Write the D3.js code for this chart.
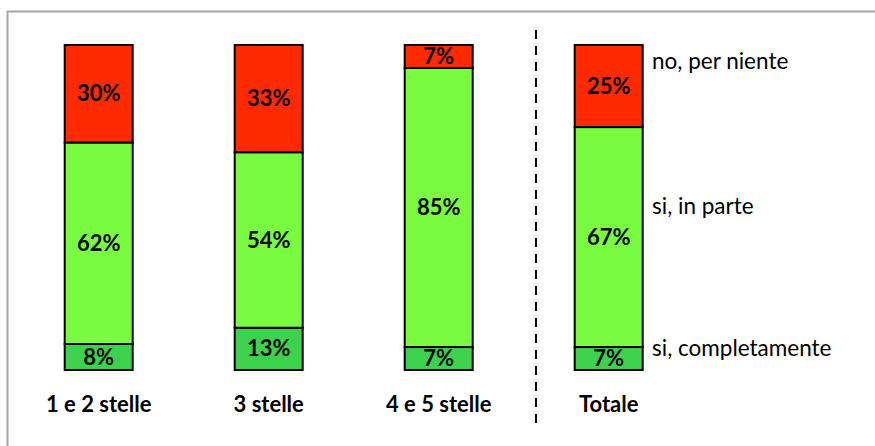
<!DOCTYPE html>
<html>
<head>
<meta charset="utf-8">
<script src="https://cdn.jsdelivr.net/npm/d3@7"></script>
<style>
  html, body { margin: 0; padding: 0; background: #fff; }
  svg { display: block; }
</style>
</head>
<body>
<svg id="chart" width="875" height="446"></svg>
<script>
// Risposte per categoria di hotel (percentuali)
const categories = ["1 e 2 stelle", "3 stelle", "4 e 5 stelle", "Totale"];
const seriesKeys = ["si, completamente", "si, in parte", "no, per niente"];
const completamente = [8, 13, 7, 7];
const inParte = [62, 54, 85, 67];
const perNiente = [30, 33, 7, 25];
const seriesColors = ["#3DD24B", "#79FB40", "#FF2A00"];
const legendY = [356, 214, 69];

const rows = categories.map((c, i) => ({
  cat: c,
  "si, completamente": completamente[i],
  "si, in parte": inParte[i],
  "no, per niente": perNiente[i]
}));

const svg = d3.select("#chart");

// cornice esterna
svg.append("rect")
  .attr("x", 7.5).attr("y", 11.5)
  .attr("width", 880).attr("height", 450)
  .attr("fill", "none")
  .attr("stroke", "#A6A6A6")
  .attr("stroke-width", 2);

const x = d3.scaleBand()
  .domain(categories)
  .range([13.7, 693.7])
  .paddingInner(0.6)
  .paddingOuter(0.3);

const y = d3.scaleLinear().domain([0, 1]).range([370, 45]);

const stack = d3.stack().keys(seriesKeys).offset(d3.stackOffsetExpand);
const layers = stack(rows);

const font = "Lato, 'Open Sans', sans-serif";

const g = svg.append("g");
layers.forEach((layer, li) => {
  const grp = g.append("g");
  grp.selectAll("rect")
    .data(layer)
    .join("rect")
    .attr("x", d => x(d.data.cat))
    .attr("width", x.bandwidth())
    .attr("y", d => y(d[1]))
    .attr("height", d => y(d[0]) - y(d[1]))
    .attr("fill", seriesColors[li])
    .attr("stroke", "#000")
    .attr("stroke-width", 2);
  grp.selectAll("text")
    .data(layer)
    .join("text")
    .attr("x", d => x(d.data.cat) + x.bandwidth() / 2)
    .attr("y", d => (y(d[0]) + y(d[1])) / 2 + 7.5)
    .attr("text-anchor", "middle")
    .attr("font-family", font)
    .attr("font-weight", "bold")
    .attr("font-size", 22)
    .attr("fill", "#000")
    .text(d => d.data[layer.key] + "%");
});

// etichette categorie
svg.append("g").selectAll("text")
  .data(categories)
  .join("text")
  .attr("x", d => x(d) + x.bandwidth() / 2)
  .attr("y", 412)
  .attr("text-anchor", "middle")
  .attr("font-family", font)
  .attr("font-weight", "bold")
  .attr("font-size", 22)
  .text(d => d);

// separatore tra categorie e totale
svg.append("line")
  .attr("x1", 536).attr("x2", 536)
  .attr("y1", 30).attr("y2", 428)
  .attr("stroke", "#000")
  .attr("stroke-width", 2)
  .attr("stroke-dasharray", "9,7");

// legenda
svg.append("g").selectAll("text")
  .data(seriesKeys)
  .join("text")
  .attr("x", 652)
  .attr("y", (d, i) => legendY[i])
  .attr("font-family", font)
  .attr("font-size", 22.5)
  .attr("fill", "#000")
  .text(d => d);
</script>
</body>
</html>
